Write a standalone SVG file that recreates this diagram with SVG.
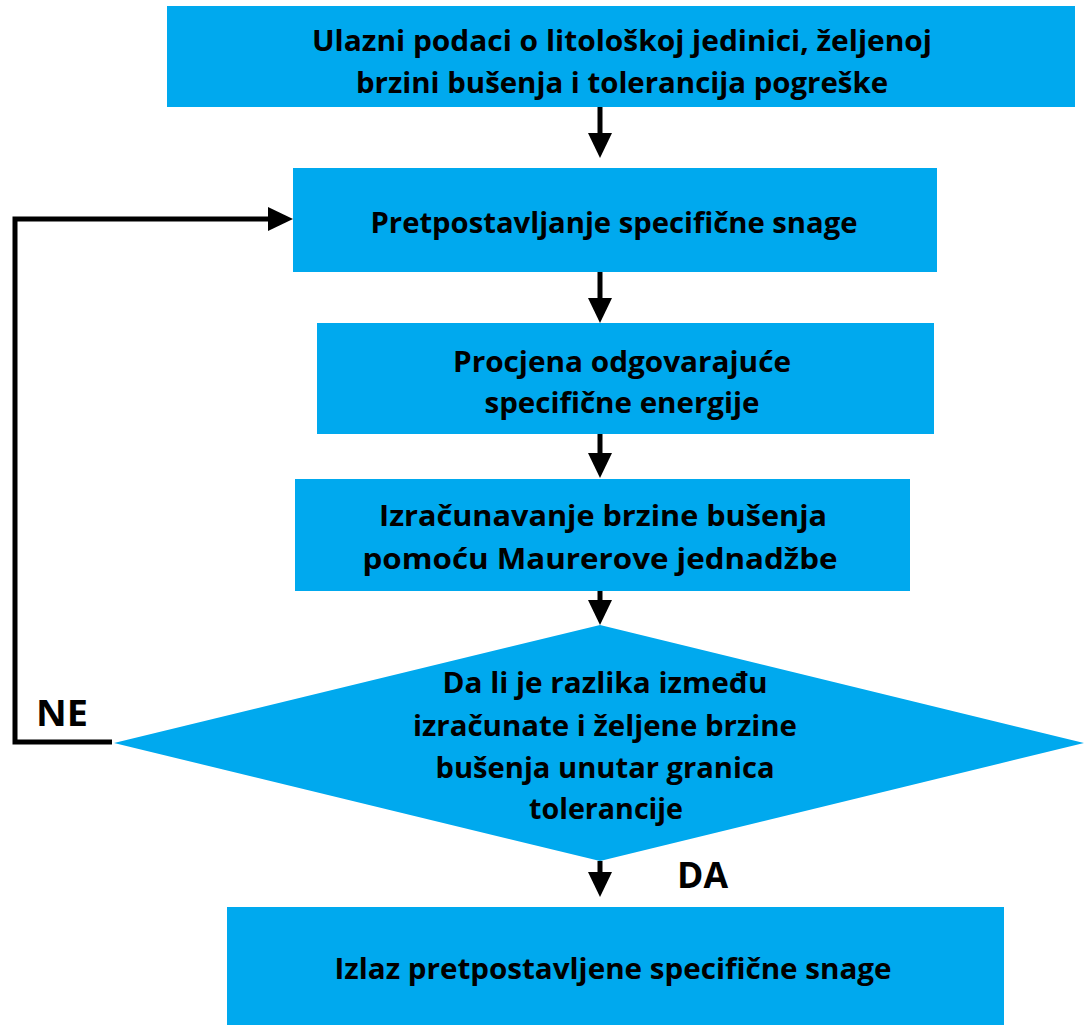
<svg xmlns="http://www.w3.org/2000/svg" width="1084" height="1025" viewBox="0 0 1084 1025">
  <style>
    .node { fill: #00A9EE; }
    .lbl { font-family: "Open Sans", "Noto Sans", "DejaVu Sans", sans-serif; font-weight: 700; font-size: 29px; fill: #000; text-anchor: middle; }
    .big { font-family: "Open Sans", "Noto Sans", "DejaVu Sans", sans-serif; font-weight: 700; font-size: 36px; fill: #000; }
    .conn { stroke: #000; stroke-width: 5; fill: none; }
  </style>
  <defs>
    <marker id="ah" markerUnits="userSpaceOnUse" markerWidth="26" markerHeight="24" refX="5" refY="12" orient="auto">
      <path d="M0,0 L25,12 L0,24 Z" fill="#000"/>
    </marker>
  </defs>
  <rect width="1084" height="1025" fill="#fff"/>

  <g id="connectors">
    <line class="conn" x1="600" y1="107" x2="600" y2="138" marker-end="url(#ah)"/>
    <line class="conn" x1="600" y1="272" x2="600" y2="303" marker-end="url(#ah)"/>
    <line class="conn" x1="600" y1="434" x2="600" y2="458" marker-end="url(#ah)"/>
    <line class="conn" x1="600" y1="591" x2="600" y2="605" marker-end="url(#ah)"/>
    <line class="conn" x1="600" y1="861" x2="600" y2="877" marker-end="url(#ah)"/>
    <path class="conn" d="M112,742 H15 V219 H273" marker-end="url(#ah)"/>
    <text class="big" x="36" y="726" textLength="52" lengthAdjust="spacingAndGlyphs">NE</text>
    <text class="big" x="677" y="888" textLength="51" lengthAdjust="spacingAndGlyphs">DA</text>
  </g>

  <g id="n1">
    <rect class="node" x="167" y="6" width="908" height="101"/>
    <text class="lbl" x="622" y="51" textLength="620" lengthAdjust="spacingAndGlyphs">Ulazni podaci o litološkoj jedinici, željenoj</text>
    <text class="lbl" x="622" y="93" textLength="532" lengthAdjust="spacingAndGlyphs">brzini bušenja i tolerancija pogreške</text>
  </g>

  <g id="n2">
    <rect class="node" x="293" y="168" width="644" height="104"/>
    <text class="lbl" x="614" y="233" textLength="487" lengthAdjust="spacingAndGlyphs">Pretpostavljanje specifične snage</text>
  </g>

  <g id="n3">
    <rect class="node" x="317" y="323" width="617" height="111"/>
    <text class="lbl" x="622" y="372" textLength="338" lengthAdjust="spacingAndGlyphs">Procjena odgovarajuće</text>
    <text class="lbl" x="622" y="413" textLength="275" lengthAdjust="spacingAndGlyphs">specifične energije</text>
  </g>

  <g id="n4">
    <rect class="node" x="295" y="479" width="615" height="112"/>
    <text class="lbl" x="603" y="526" textLength="448" lengthAdjust="spacingAndGlyphs">Izračunavanje brzine bušenja</text>
    <text class="lbl" x="600" y="569" textLength="475" lengthAdjust="spacingAndGlyphs">pomoću Maurerove jednadžbe</text>
  </g>

  <g id="n5">
    <polygon class="node" points="600,625 1084,743 600,861 114,743"/>
    <text class="lbl" x="605" y="693" textLength="325" lengthAdjust="spacingAndGlyphs">Da li je razlika između</text>
    <text class="lbl" x="605" y="736" textLength="384" lengthAdjust="spacingAndGlyphs">izračunate i željene brzine</text>
    <text class="lbl" x="605" y="778" textLength="339" lengthAdjust="spacingAndGlyphs">bušenja unutar granica</text>
    <text class="lbl" x="606" y="819" textLength="154" lengthAdjust="spacingAndGlyphs">tolerancije</text>
  </g>

  <g id="n6">
    <rect class="node" x="227" y="907" width="777" height="118"/>
    <text class="lbl" x="613" y="979" textLength="557" lengthAdjust="spacingAndGlyphs">Izlaz pretpostavljene specifične snage</text>
  </g>
</svg>
